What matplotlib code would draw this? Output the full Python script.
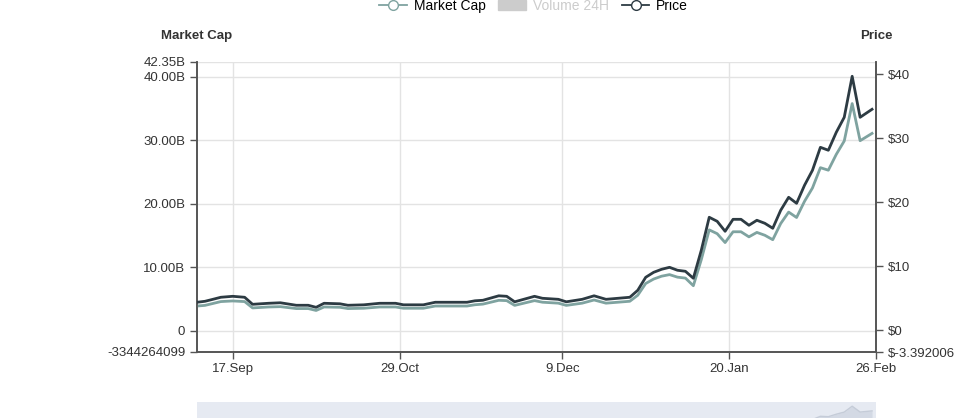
import pandas as pd
import matplotlib.pyplot as plt
import matplotlib.dates as mdates
from matplotlib.lines import Line2D
from matplotlib.patches import Patch

plt.rcParams['font.family'] = ['Liberation Sans', 'DejaVu Sans']

# values
dates = ['2020-09-08', '2020-09-10', '2020-09-12', '2020-09-14', '2020-09-17', '2020-09-20',
         '2020-09-22', '2020-09-26', '2020-09-29', '2020-10-03', '2020-10-06', '2020-10-08',
         '2020-10-10', '2020-10-14', '2020-10-16', '2020-10-20', '2020-10-24', '2020-10-28',
         '2020-10-30', '2020-11-04', '2020-11-07', '2020-11-10', '2020-11-15', '2020-11-17',
         '2020-11-19', '2020-11-23', '2020-11-25', '2020-11-27', '2020-12-02', '2020-12-04',
         '2020-12-08', '2020-12-10', '2020-12-14', '2020-12-17', '2020-12-20', '2020-12-26',
         '2020-12-28', '2020-12-30', '2021-01-01', '2021-01-03', '2021-01-05', '2021-01-07',
         '2021-01-09', '2021-01-11', '2021-01-13', '2021-01-15', '2021-01-17', '2021-01-19',
         '2021-01-21', '2021-01-23', '2021-01-25', '2021-01-27', '2021-01-29', '2021-01-31',
         '2021-02-02', '2021-02-04', '2021-02-06', '2021-02-08', '2021-02-10', '2021-02-12',
         '2021-02-14', '2021-02-16', '2021-02-18', '2021-02-20', '2021-02-22', '2021-02-25']

price = [4.38, 4.53, 4.84, 5.16, 5.31, 5.16, 4.06, 4.22, 4.30, 3.91, 3.91, 3.59,
         4.22, 4.14, 3.91, 3.98, 4.22, 4.22, 3.98, 3.98, 4.38, 4.38, 4.38, 4.61,
         4.69, 5.39, 5.31, 4.45, 5.31, 5.00, 4.84, 4.45, 4.84, 5.39, 4.84, 5.16,
         6.25, 8.28, 9.06, 9.53, 9.84, 9.38, 9.22, 8.13, 12.5, 17.66, 17.03, 15.47,
         17.34, 17.34, 16.41, 17.19, 16.72, 15.94, 18.75, 20.78, 19.84, 22.66, 25.0, 28.59,
         28.13, 30.94, 33.28, 39.69, 33.28, 34.53]

# market cap in billions
market_cap = [3.9, 4.0, 4.3, 4.6, 4.7, 4.6, 3.6, 3.75, 3.8, 3.5, 3.5, 3.2,
              3.75, 3.7, 3.5, 3.55, 3.75, 3.75, 3.55, 3.55, 3.9, 3.9, 3.9, 4.1,
              4.2, 4.8, 4.75, 4.0, 4.75, 4.5, 4.35, 4.0, 4.35, 4.85, 4.35, 4.65,
              5.6, 7.45, 8.15, 8.6, 8.85, 8.45, 8.3, 7.1, 11.2, 15.9, 15.3, 13.9,
              15.6, 15.6, 14.8, 15.5, 15.05, 14.35, 16.9, 18.7, 17.85, 20.4, 22.5, 25.7,
              25.3, 27.8, 29.9, 35.8, 29.95, 31.1]

x_tick_dates = ['2020-09-17', '2020-10-29', '2020-12-09', '2021-01-20', '2021-02-26']
x_tick_labels = ['17.Sep', '29.Oct', '9.Dec', '20.Jan', '26.Feb']

cap_ticks = [-3.344264099, 0, 10, 20, 30, 40, 42.35]
cap_labels = ['-3344264099', '0', '10.00B', '20.00B', '30.00B', '40.00B', '42.35B']
price_ticks = [-3.392006, 0, 10, 20, 30, 40]
price_labels = ['$-3.392006', '$0', '$10', '$20', '$30', '$40']

df = pd.DataFrame({'date': pd.to_datetime(dates), 'price': price, 'cap': market_cap})

cap_color = '#7fa3a0'
price_color = '#2d3b43'
axis_color = '#555555'
grid_color = '#e3e3e3'

fig = plt.figure(figsize=(9.6, 4.18), dpi=100)
ax = fig.add_axes([197 / 960, 66 / 418, 679 / 960, 290 / 418])
ax2 = ax.twinx()

ax.plot(df['date'], df['cap'], color=cap_color, linewidth=2, zorder=3)
ax2.plot(df['date'], df['price'], color=price_color, linewidth=2, zorder=3)

ax.set_xlim(pd.Timestamp('2020-09-08'), pd.Timestamp('2021-02-26'))
ax.set_ylim(cap_ticks[0], cap_ticks[-1])
ax2.set_ylim(price_ticks[0], price_ticks[0] + 290 / 6.4)

ax.set_xticks(pd.to_datetime(x_tick_dates))
ax.set_xticklabels(x_tick_labels)
ax.set_yticks(cap_ticks)
ax.set_yticklabels(cap_labels)
ax2.set_yticks(price_ticks)
ax2.set_yticklabels(price_labels)

ax.grid(True, color=grid_color, linewidth=1)
ax.set_axisbelow(True)

for a in (ax, ax2):
    a.spines['top'].set_visible(False)
    for side in ('left', 'right', 'bottom'):
        a.spines[side].set_color(axis_color)
        a.spines[side].set_linewidth(1.2)
    a.tick_params(colors=axis_color, labelcolor='#333333', labelsize=9.5, length=5, width=1)
ax.tick_params(axis='x', pad=3)

fig.text(197 / 960, 1 - 36 / 418, 'Market Cap', ha='center', va='center',
         fontsize=9.5, fontweight='bold', color='#333333')
fig.text(876 / 960, 1 - 36 / 418, 'Price', ha='center', va='center',
         fontsize=9.5, fontweight='bold', color='#333333')

# legend (Volume 24H series is hidden, so it's greyed)
handles = [
    Line2D([], [], color=cap_color, marker='o', markerfacecolor='white', markersize=7, linewidth=1.3),
    Patch(facecolor='#cccccc', edgecolor='#cccccc'),
    Line2D([], [], color=price_color, marker='o', markerfacecolor='white', markersize=7, linewidth=1.3),
]
leg = fig.legend(handles, ['Market Cap', 'Volume 24H', 'Price'], loc='center',
                 bbox_to_anchor=(0.556, 1 - 6 / 418), ncol=3, frameon=False,
                 fontsize=10, handlelength=2, columnspacing=0.9, handletextpad=0.5)
leg.get_texts()[1].set_color('#cccccc')

# navigator strip at the bottom
nav = fig.add_axes([197 / 960, -24 / 418, 679 / 960, 40 / 418])
nav.set_facecolor('#e6eaf2')
nav.fill_between(df['date'], df['cap'], color='#d3d9e4', linewidth=0)
nav.plot(df['date'], df['cap'], color='#c5ccd8', linewidth=1)
nav.set_xlim(pd.Timestamp('2020-09-08'), pd.Timestamp('2021-02-26'))
nav.set_ylim(0, 40)
nav.set_xticks([])
nav.set_yticks([])
for s in nav.spines.values():
    s.set_visible(False)

fig.savefig('out.png', dpi=100)
